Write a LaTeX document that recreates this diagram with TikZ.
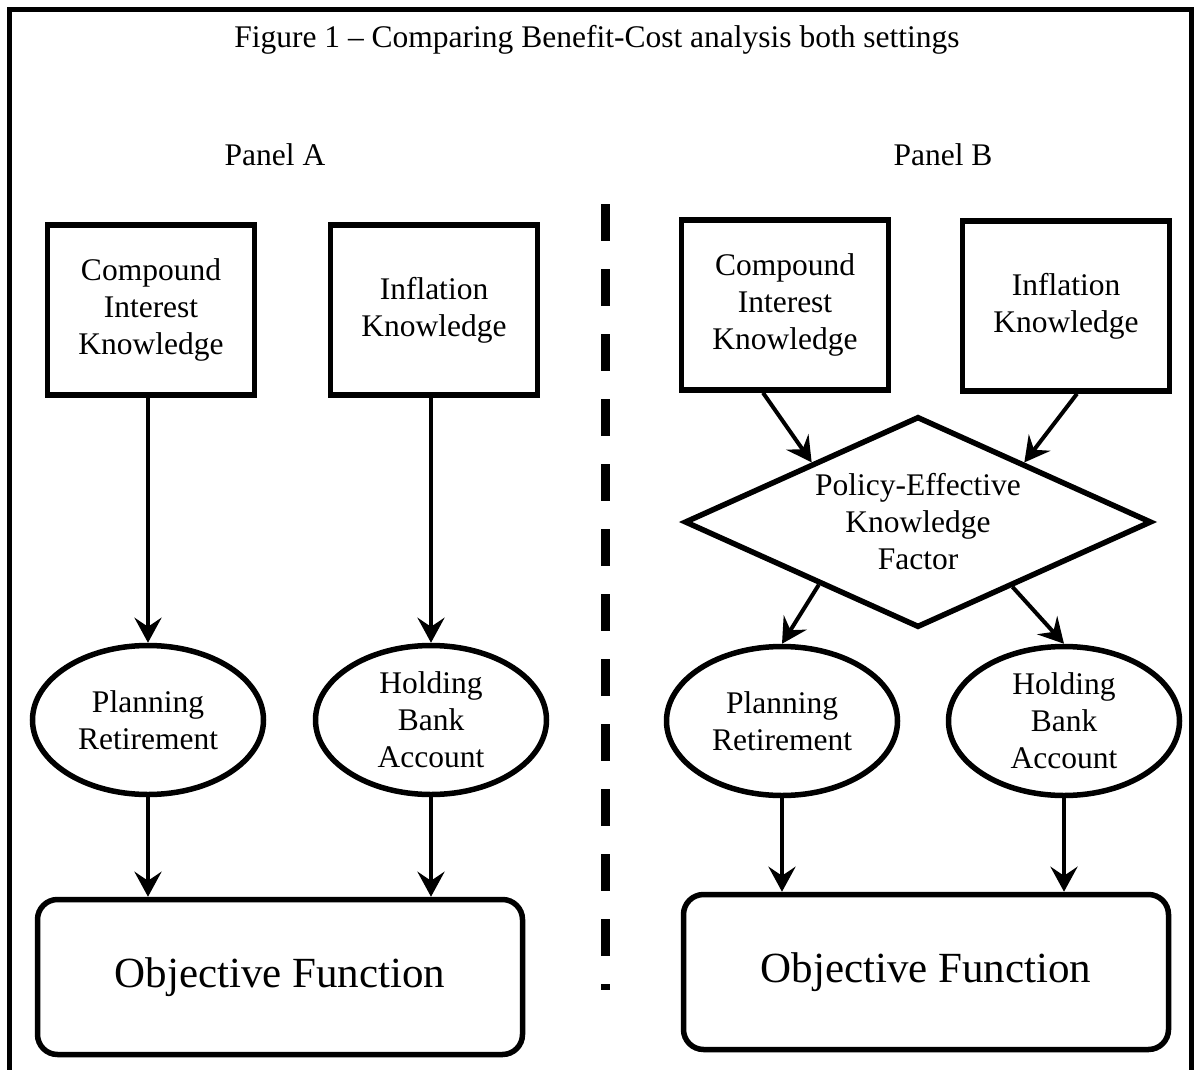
\documentclass[tikz,border=0pt]{standalone}
\usepackage{fontspec}
\setmainfont{Liberation Serif}
\usetikzlibrary{arrows.meta,shapes.geometric,calc}

\begin{document}
\begin{tikzpicture}[x=1pt,y=-1pt]
\tikzstyle{txt}=[font=\fontsize{31.5}{37}\selectfont,align=center,inner sep=0pt]
\tikzstyle{box}=[txt,draw,line width=5.5pt,minimum width=207pt,minimum height=170pt]
\tikzstyle{oval}=[txt,draw,ellipse,line width=5.5pt,minimum width=231pt,minimum height=149pt]
\tikzstyle{choice}=[txt,draw,diamond,aspect=2.2,line width=5.5pt,minimum width=467pt,minimum height=211pt]
\tikzstyle{goal}=[draw,rounded corners=20pt,line width=5.5pt,minimum width=485pt,minimum height=155pt,inner sep=0pt,font=\fontsize{43}{50}\selectfont]
\tikzstyle{arr}=[-{Stealth[length=25pt,width=27pt,inset=9pt]},line width=4pt]
\useasboundingbox (0,0) rectangle (1194,1070);
\draw[line width=5pt] (9.5,1070) -- (9.5,9.5) -- (1191.5,9.5) -- (1191.5,1070);
\node[txt] (title) at (597,40) {Figure 1 \textendash{} Comparing Benefit-Cost analysis both settings};
\node[txt] (panelA) at (275,155) {Panel A};
\node[txt] (panelB) at (943,155) {Panel B};
% panel A
\node[box] (cikA) at (151,310) {Compound\\Interest\\Knowledge};
\node[box] (ikA) at (434,310) {Inflation\\Knowledge};
\node[oval] (prA) at (148,720) {Planning\\Retirement};
\node[oval] (hbaA) at (431,720) {Holding\\Bank\\Account};
\node[goal] (objA) at (280,977) {Objective Function};
\draw[arr] (prA.north |- cikA.south) -- (prA.north);
\draw[arr] (hbaA.north |- ikA.south) -- (hbaA.north);
\draw[arr] (prA.south) -- (prA.south |- objA.north);
\draw[arr] (hbaA.south) -- (hbaA.south |- objA.north);
% divider
\coordinate (top) at (605,204);
\coordinate (bot) at (605,990);
\draw[line width=9pt,dash pattern=on 37pt off 28pt] (top) -- (bot);
% panel B
\node[box] (cikB) at (785,305) {Compound\\Interest\\Knowledge};
\node[box] (ikB) at (1066,306) {Inflation\\Knowledge};
\node[choice] (pek) at (918,522) {Policy-Effective\\Knowledge\\Factor};
\node[oval] (prB) at (782,721) {Planning\\Retirement};
\node[oval] (hbaB) at (1064,721) {Holding\\Bank\\Account};
\node[goal] (objB) at (926,972) {Objective Function};
\draw[arr] ([xshift=-22pt]cikB.south) -- ($(pek.west)!0.55!(pek.north)$);
\draw[arr] ([xshift=11pt]ikB.south) -- ($(pek.east)!0.55!(pek.north)$);
\draw[arr] ($(pek.west)!0.58!(pek.south)$) -- (prB.north);
\draw[arr] ($(pek.east)!0.6!(pek.south)$) -- (hbaB.north);
\draw[arr] (prB.south) -- (prB.south |- objB.north);
\draw[arr] (hbaB.south) -- (hbaB.south |- objB.north);
\end{tikzpicture}
\end{document}
